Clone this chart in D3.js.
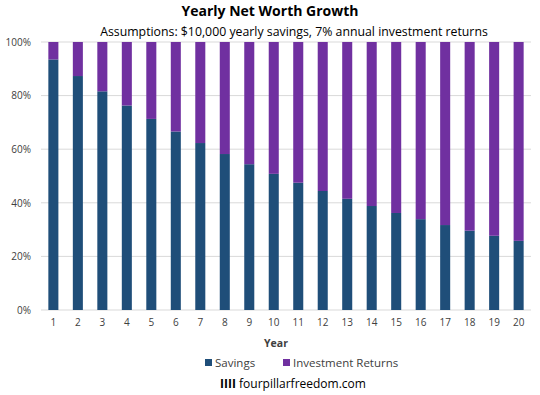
<!DOCTYPE html>
<html>
<head>
<meta charset="utf-8">
<script src="https://cdn.jsdelivr.net/npm/d3@7"></script>
<style>
  body { margin: 0; background: #fff; }
  text { font-family: "Open Sans", "Noto Sans", sans-serif; fill: #404040; }
  .grid line { stroke: #d9d9d9; }
  .axis path, .axis line { display: none; }
</style>
</head>
<body>
<div id="chart-area"></div>
<script>
const years = d3.range(1, 21).map(String);
const savingsPct = [93.5, 87.3, 81.6, 76.3, 71.3, 66.6, 62.3, 58.2, 54.4, 50.8,
  47.5, 44.4, 41.5, 38.8, 36.2, 33.9, 31.7, 29.6, 27.7, 25.8];
const returnsPct = savingsPct.map(d => 100 - d);
const yTicks = [0, 20, 40, 60, 80, 100];
const seriesNames = ['Savings', 'Investment Returns'];
const colors = ['#1f4e79', '#7030a0'];

const chartSize = { width: 540, height: 395 };
const margin = { left: 41, right: 9, top: 42, bottom: 85 };
const width = chartSize.width - margin.left - margin.right;
const height = chartSize.height - margin.top - margin.bottom;

const svg = d3.select('#chart-area').append('svg')
  .attr('width', chartSize.width)
  .attr('height', chartSize.height);

svg.append('text')
  .attr('x', 270).attr('y', 16)
  .attr('text-anchor', 'middle')
  .style('font-size', '14px').style('font-weight', 'bold').style('fill', '#000')
  .text('Yearly Net Worth Growth');

svg.append('text')
  .attr('x', 294).attr('y', 36)
  .attr('text-anchor', 'middle')
  .style('font-size', '12.3px').style('fill', '#000')
  .text('Assumptions: $10,000 yearly savings, 7% annual investment returns');

const g = svg.append('g').attr('transform', `translate(${margin.left},${margin.top})`);

const x = d3.scaleBand().domain(years).range([0, width]).paddingInner(0.59).paddingOuter(0.3);
const y = d3.scaleLinear().domain([0, 100]).range([height, 0]);

g.append('g').attr('class', 'grid')
  .selectAll('line').data(yTicks).join('line')
  .attr('x1', 0).attr('x2', width)
  .attr('y1', d => y(d)).attr('y2', d => y(d));

const yAxis = g.append('g').attr('class', 'axis')
  .call(d3.axisLeft(y).tickValues(yTicks).tickFormat(d => `${d}%`).tickSize(0).tickPadding(10));
yAxis.selectAll('text').style('font-size', '10px').style('font-family', '"Open Sans", sans-serif');

const xAxis = g.append('g').attr('class', 'axis')
  .attr('transform', `translate(0,${height})`)
  .call(d3.axisBottom(x).tickSize(0).tickPadding(9));
xAxis.selectAll('text').style('font-size', '10px').style('font-family', '"Open Sans", sans-serif');

const rows = years.map((yr, i) => ({ year: yr, Savings: savingsPct[i], 'Investment Returns': returnsPct[i] }));
const stacked = d3.stack().keys(seriesNames)(rows);

g.selectAll('.series').data(stacked).join('g')
  .attr('class', 'series')
  .attr('fill', (d, i) => colors[i])
  .selectAll('rect').data(d => d).join('rect')
  .attr('x', d => x(d.data.year))
  .attr('y', d => y(d[1]))
  .attr('width', x.bandwidth())
  .attr('height', d => y(d[0]) - y(d[1]));

svg.append('text')
  .attr('x', 276).attr('y', 347)
  .attr('text-anchor', 'middle')
  .style('font-size', '10.5px').style('font-weight', 'bold')
  .text('Year');

const legend = svg.append('g').attr('transform', 'translate(205,367)');
const legendX = [0, 78];
seriesNames.forEach((name, i) => {
  const item = legend.append('g').attr('transform', `translate(${legendX[i]},0)`);
  item.append('rect').attr('x', 0).attr('y', -8).attr('width', 7).attr('height', 7).attr('fill', colors[i]);
  item.append('text').attr('x', 10).attr('y', 0).style('font-size', '11.5px').text(name);
});

const footer = svg.append('text')
  .attr('x', 293).attr('y', 388)
  .attr('text-anchor', 'middle')
  .style('font-size', '12px').style('fill', '#000');
footer.append('tspan').style('font-weight', 'bold').style('fill', '#000').text('IIII ');
footer.append('tspan').style('fill', '#000').text('fourpillarfreedom.com');
</script>
</body>
</html>
